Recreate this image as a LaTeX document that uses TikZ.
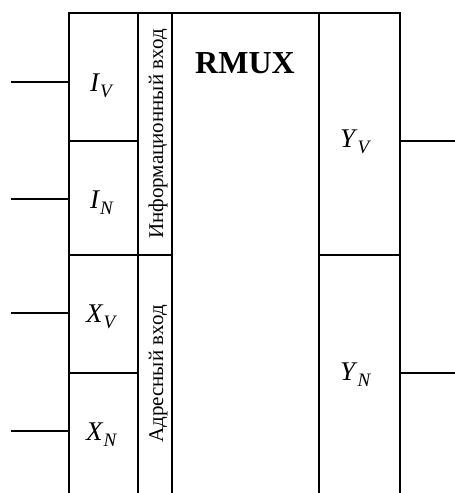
\documentclass[tikz,border=0pt]{standalone}
\usepackage{fontspec}
\setmainfont{Liberation Serif}
\newcommand{\sig}[2]{\textit{#1}\raisebox{-6pt}{\fontsize{19}{19}\selectfont\textit{#2}}}
\begin{document}
\begin{tikzpicture}[x=1pt,y=-1pt,
  frame/.style={line width=2pt},
  thinsep/.style={line width=1.2pt},
  pin/.style={line width=2pt},
  sigtext/.style={inner sep=0pt,anchor=base west,font=\fontsize{27}{27}\selectfont},
  sidetext/.style={inner sep=0pt,anchor=base,rotate=90,font=\fontsize{21}{21}\selectfont},
  title/.style={inner sep=0pt,font=\fontsize{32}{32}\selectfont\bfseries}]
\useasboundingbox (0,0) rectangle (455,493);

% block outline (open at the bottom)
\coordinate (tl) at (69,13);
\coordinate (tr) at (400,13);
\draw[frame] (69,493) -- (tl) -- (tr) -- (400,493);
\draw[frame] (138,13) -- (138,493);
\draw[frame] (172,13) -- (172,493);
\draw[frame] (319,13) -- (319,493);

% cell separators
\draw[frame] (69,141) -- (138,141);
\draw[frame] (69,373) -- (138,373);
\draw[thinsep] (69,255) -- (172,255);
\draw[thinsep] (319,255) -- (400,255);

% pins on the block edges
\coordinate (pIV) at (69,82);
\coordinate (pIN) at (69,199);
\coordinate (pXV) at (69,313);
\coordinate (pXN) at (69,431);
\coordinate (pYV) at (400,141);
\coordinate (pYN) at (400,373);
\coordinate (inIV) at (11,82);
\coordinate (inIN) at (11,199);
\coordinate (inXV) at (11,313);
\coordinate (inXN) at (11,431);
\coordinate (outYV) at (455,141);
\coordinate (outYN) at (455,373);
\draw[pin] (inIV) -- (pIV);
\draw[pin] (inIN) -- (pIN);
\draw[pin] (inXV) -- (pXV);
\draw[pin] (inXN) -- (pXN);
\draw[pin] (pYV) -- (outYV);
\draw[pin] (pYN) -- (outYN);

% signal names
\node[sigtext] (IV) at (90,91) {\sig{I}{V}};
\node[sigtext] (IN) at (90,208) {\sig{I}{N}};
\node[sigtext] (XV) at (86,322) {\sig{X}{V}};
\node[sigtext] (XN) at (86,440) {\sig{X}{N}};
\node[sigtext] (YV) at (340,147) {\sig{Y}{V}};
\node[sigtext] (YN) at (340,380) {\sig{Y}{N}};

% group captions
\node[sidetext] (info) at (163,134) {Информационный вход};
\node[sidetext] (addr) at (163,374) {Адресный вход};

% block title
\node[title] (name) at (245,63) {RMUX};
\end{tikzpicture}
\end{document}
